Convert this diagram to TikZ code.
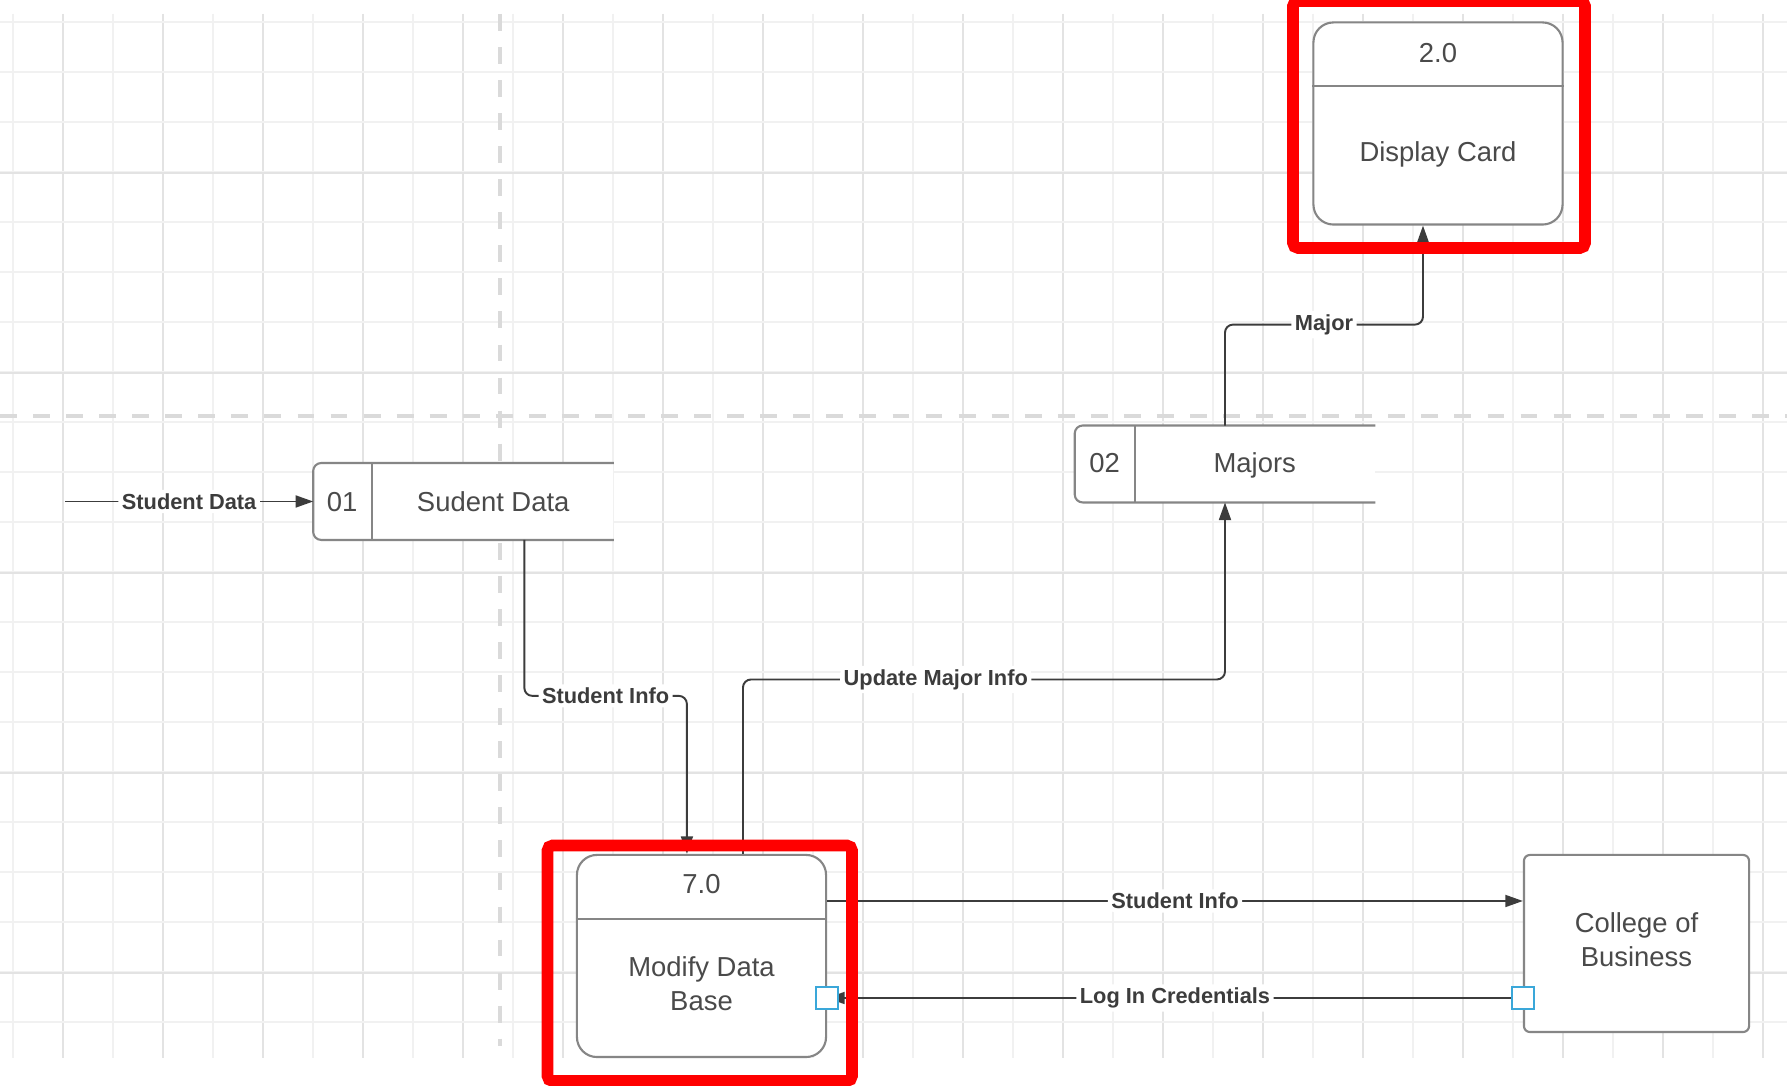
\documentclass[tikz,border=0pt]{standalone}
\usepackage{fontspec}
\setmainfont{Liberation Sans}
\usepackage{tikz}
\usetikzlibrary{arrows.meta,calc}

\definecolor{gridminor}{HTML}{F1F1F1}
\definecolor{gridmajor}{HTML}{E3E3E3}
\definecolor{guide}{HTML}{DADADA}
\definecolor{boxgray}{HTML}{868686}
\definecolor{inkgray}{HTML}{4A4A4A}
\definecolor{linegray}{HTML}{3C3C3C}
\definecolor{portblue}{HTML}{3AA7D9}

\tikzset{
	process/.style={draw=boxgray, line width=0.6pt, fill=white, rounded corners=0.2cm,
		minimum width=2.49cm, minimum height=2.02cm, inner sep=0pt},
	entity/.style={draw=boxgray, line width=0.6pt, fill=white, rounded corners=0.06cm,
		minimum width=2.25cm, minimum height=1.77cm, inner sep=0pt},
	store/.style={fill=white, minimum width=2.99cm, minimum height=0.755cm, inner sep=0pt},
	txt/.style={text=inkgray, font=\fontsize{7.8}{9.6}\selectfont, align=center, inner sep=0pt},
	lbl/.style={fill=white, text=linegray, font=\bfseries\fontsize{6.2}{7}\selectfont, inner sep=1pt},
	flow/.style={draw=linegray, line width=0.55pt, rounded corners=0.08cm,
		-{Triangle[length=5pt,width=3.4pt]}},
	port/.style={draw=portblue, fill=white, line width=0.7pt, minimum size=0.22cm, inner sep=0pt},
	redframe/.style={draw=red, line width=3.3pt, rounded corners=0.05cm},
	guideline/.style={guide, line width=1.3pt, dash pattern=on 4.8pt off 4.6pt}
}

\begin{document}
\begin{tikzpicture}[x=0.01cm, y=-0.01cm]
	\clip (0,0) rectangle (1787,1086);
	\fill[white] (0,0) rectangle (1787,1086);

	% grid
	\foreach \gx in {13,113,...,1713}
		\draw[gridminor, line width=0.45pt] (\gx,14) -- (\gx,1058);
	\foreach \gx in {63,163,...,1763}
		\draw[gridmajor, line width=0.45pt] (\gx,14) -- (\gx,1058);
	\foreach \gy in {22,72,...,1022}
		\draw[gridminor, line width=0.45pt] (0,\gy) -- (1787,\gy);
	\foreach \gy in {173,373,...,973}
		\draw[gridmajor, line width=0.45pt] (0,\gy) -- (1787,\gy);
	\draw[guideline] (0,416) -- (1787,416);
	\draw[guideline] (500,14) -- (500,1046);

	% processes
	\node[process] (disp) at (1438,123.5) {};
	\draw[boxgray, line width=0.6pt] ($(disp.north west)+(0,65)$) -- ($(disp.north east)+(0,65)$);
	\node[txt, anchor=base] (disp-id) at ($(disp.north)+(0,41)$) {2.0};
	\node[txt, anchor=base] (disp-name) at ($(disp.north)+(0,140)$) {Display Card};

	\node[process] (mdb) at (701.5,956) {};
	\draw[boxgray, line width=0.6pt] ($(mdb.north west)+(0,65)$) -- ($(mdb.north east)+(0,65)$);
	\node[txt, anchor=base] (mdb-id) at ($(mdb.north)+(0,40)$) {7.0};
	\node[txt] (mdb-name) at ($(mdb.north)+(0,130)$) {Modify Data\\Base};

	\node[entity] (col) at (1636.5,943.5) {};
	\node[txt] (col-name) at ($(col.center)+(0,-4)$) {College of\\Business};

	% data stores
	\node[store] (sd) at (463.5,501.5) {};
	\draw[boxgray, line width=0.6pt, rounded corners=0.08cm] (sd.north east) -- (sd.north west) -- (sd.south west) -- (sd.south east);
	\draw[boxgray, line width=0.6pt] ($(sd.north west)+(59,0)$) -- ($(sd.south west)+(59,0)$);
	\node[txt, anchor=base] (sd-id) at ($(sd.west)+(29,10)$) {01};
	\node[txt, anchor=base] (sd-name) at ($(sd.west)+(180,10)$) {Sudent Data};

	\node[store] (maj) at (1225,464) {};
	\draw[boxgray, line width=0.6pt, rounded corners=0.08cm] (maj.north east) -- (maj.north west) -- (maj.south west) -- (maj.south east);
	\draw[boxgray, line width=0.6pt] ($(maj.north west)+(60,0)$) -- ($(maj.south west)+(60,0)$);
	\node[txt, anchor=base] (maj-id) at ($(maj.west)+(30,9)$) {02};
	\node[txt, anchor=base] (maj-name) at ($(maj.west)+(180,9)$) {Majors};

	% flows
	\coordinate (in) at (65,501.5);
	\draw[flow] (in) -- node[lbl]{Student Data} (sd.west);
	\draw[flow] ([xshift=2.11cm]sd.south west) |- node[lbl,pos=0.75]{Student Info} ($(mdb.north west)+(111,-158)$) -- ([xshift=1.11cm]mdb.north west);
	\draw[flow] ([xshift=1.67cm]mdb.north west) |- node[lbl,pos=0.7]{Update Major Info} ($(maj.south)+(0,177)$) -- (maj.south);
	\draw[flow] (maj.north) |- node[lbl,pos=0.75]{Major} ($(disp.south)+(-15,99)$) -- ([xshift=-0.15cm]disp.south);
	\draw[flow] ($(mdb.east)+(0,-55)$) -- node[lbl]{Student Info} ($(col.west)+(0,-42.5)$);

	\coordinate (pa) at ($(mdb.east)+(0,42)$);
	\coordinate (pb) at ($(col.west)+(0,54.5)$);
	\draw[flow] (pb) -- node[lbl]{Log In Credentials} (pa);
	\node[port] (pa-box) at (pa) {};
	\node[port] (pb-box) at (pb) {};

	% highlights
	\draw[redframe] (1293,1) rectangle (1585,248);
	\draw[redframe] (547.5,845.5) rectangle (852,1081);
\end{tikzpicture}
\end{document}
